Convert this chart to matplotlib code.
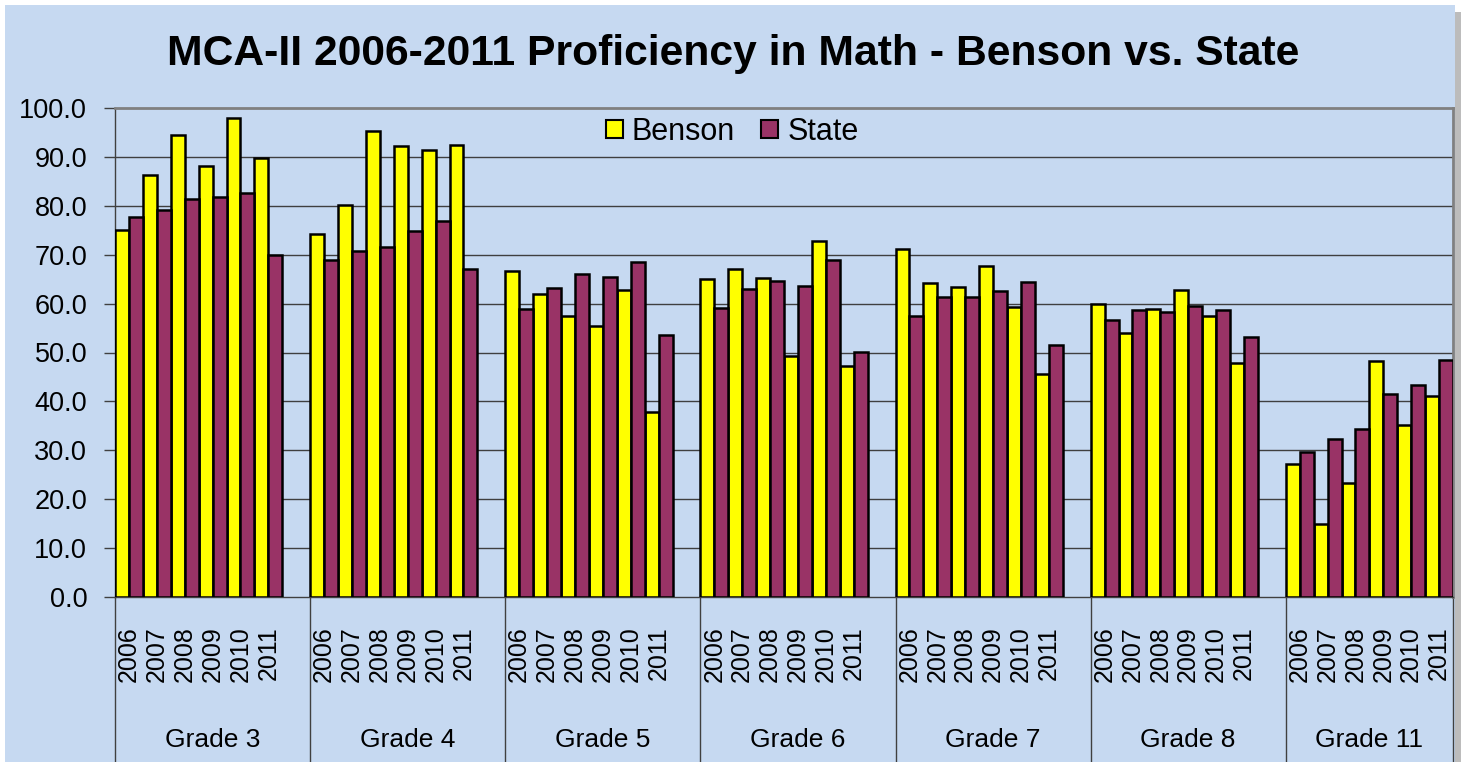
import matplotlib
matplotlib.use("Agg")
import matplotlib.pyplot as plt
from matplotlib import font_manager
from matplotlib.patches import Rectangle, Patch
import matplotlib.transforms as mtransforms

grades = ["Grade 3", "Grade 4", "Grade 5", "Grade 6", "Grade 7", "Grade 8", "Grade 11"]
years = ["2006", "2007", "2008", "2009", "2010", "2011"]

benson = [
    [75.0, 86.2, 94.5, 88.1, 98.0, 89.7],   # Grade 3
    [74.2, 80.2, 95.2, 92.2, 91.4, 92.5],   # Grade 4
    [66.6, 61.9, 57.4, 55.4, 62.7, 37.9],   # Grade 5
    [65.0, 67.1, 65.3, 49.2, 72.9, 47.3],   # Grade 6
    [71.2, 64.2, 63.3, 67.6, 59.3, 45.6],   # Grade 7
    [60.0, 53.9, 58.9, 62.8, 57.4, 47.8],   # Grade 8
    [27.3, 14.9, 23.4, 48.3, 35.2, 41.1],   # Grade 11
]
state = [
    [77.8, 79.1, 81.3, 81.9, 82.6, 70.0],
    [68.9, 70.8, 71.6, 74.8, 76.9, 67.1],
    [58.9, 63.2, 66.0, 65.4, 68.6, 53.6],
    [59.2, 63.0, 64.6, 63.7, 69.0, 50.2],
    [57.4, 61.4, 61.3, 62.6, 64.4, 51.6],
    [56.6, 58.7, 58.2, 59.5, 58.6, 53.2],
    [29.7, 32.3, 34.3, 41.6, 43.3, 48.4],
]
yticks = [0, 10, 20, 30, 40, 50, 60, 70, 80, 90, 100]
title = "MCA-II 2006-2011 Proficiency in Math - Benson vs. State"

avail = {f.name for f in font_manager.fontManager.ttflist}
arial = "Liberation Sans" if "Liberation Sans" in avail else "DejaVu Sans"
if "Liberation Sans Narrow" in avail:
    narrow_kw = dict(family="Liberation Sans Narrow")
    tick_fs, year_fs, grade_fs = 22, 22, 22
else:
    narrow_kw = dict(family=arial)
    tick_fs, year_fs, grade_fs = 19.5, 18, 19

BG = "#C6D9F1"
YEL = "#FFFF00"
MAR = "#993366"

W, H = 1465, 762
fig = plt.figure(figsize=(W / 100, H / 100), dpi=100)
fig.patch.set_facecolor("white")

# chart area with shadow
fig.patches.append(Rectangle((10 / W, 0), (1461 - 10) / W, (H - 12) / H,
                             transform=fig.transFigure, facecolor="#A0A0A0",
                             edgecolor="none", alpha=0.7, zorder=0))
fig.patches.append(Rectangle((5 / W, 0), (1455 - 5) / W, (H - 5) / H,
                             transform=fig.transFigure, facecolor=BG,
                             edgecolor="none", zorder=1))

L, R, T, B = 115, 1453, 108, 597
ax = fig.add_axes([L / W, (H - B) / H, (R - L) / W, (B - T) / H])
ax.set_facecolor(BG)
ax.set_zorder(2)

n_per = 7
total = len(grades) * n_per - 1
for g in range(len(grades)):
    xs = [g * n_per + i for i in range(len(years))]
    ax.bar([x + 0.25 for x in xs], benson[g], width=0.5, color=YEL,
           edgecolor="black", linewidth=1.8, zorder=3)
    ax.bar([x + 0.75 for x in xs], state[g], width=0.5, color=MAR,
           edgecolor="black", linewidth=1.8, zorder=3)

ax.set_xlim(0, total)
ax.set_ylim(0, 100)
ax.set_yticks(yticks)
ax.set_yticklabels([f"{v:.1f}" for v in yticks], fontsize=tick_fs, **narrow_kw)
ax.tick_params(axis="y", direction="out", length=8, width=1, color="#404040", pad=12)
ax.set_xticks([])
for v in yticks[1:-1]:
    ax.axhline(v, color="#3F3F3F", lw=1.0, zorder=1)

ax.spines["top"].set_color("#808080")
ax.spines["top"].set_linewidth(2)
ax.spines["right"].set_color("#808080")
ax.spines["right"].set_linewidth(2)
ax.spines["left"].set_color("#404040")
ax.spines["bottom"].set_color("#404040")
ax.spines["left"].set_linewidth(1)
ax.spines["bottom"].set_linewidth(1)

trans = mtransforms.blended_transform_factory(ax.transData, ax.transAxes)
below = -(H - B) / (B - T)
bounds = [g * n_per for g in range(len(grades))] + [total]
for b in bounds:
    ax.plot([b, b], [0, below], transform=trans, color="#404040", lw=1,
            clip_on=False, zorder=2)

ypx = B - T
for g in range(len(grades)):
    for i, yr in enumerate(years):
        ax.text(g * n_per + i + 0.5, -29 / ypx, yr, transform=trans, rotation=90,
                ha="center", va="top", fontsize=year_fs, **narrow_kw)
    start = g * n_per
    end = min(start + n_per, total)
    ax.text((start + end) / 2, -143 / ypx, grades[g], transform=trans,
            ha="center", va="center", fontsize=grade_fs, **narrow_kw)

handles = [Patch(facecolor=YEL, edgecolor="black", linewidth=1.5, label="Benson"),
           Patch(facecolor=MAR, edgecolor="black", linewidth=1.5, label="State")]
leg = ax.legend(handles=handles, ncol=2, loc="center left",
                bbox_to_anchor=((606 - L) / (R - L), (B - 132) / ypx),
                frameon=False, handlelength=0.55, handleheight=0.55,
                handletextpad=0.3, columnspacing=0.85, borderpad=0,
                borderaxespad=0, prop=dict(family=arial, size=22))

fig.text(733 / W, 1 - 54 / H, title, ha="center", va="center",
         fontsize=30.7, fontweight="bold", family=arial, zorder=5)

fig.savefig("out.png", dpi=100, facecolor=fig.get_facecolor())
